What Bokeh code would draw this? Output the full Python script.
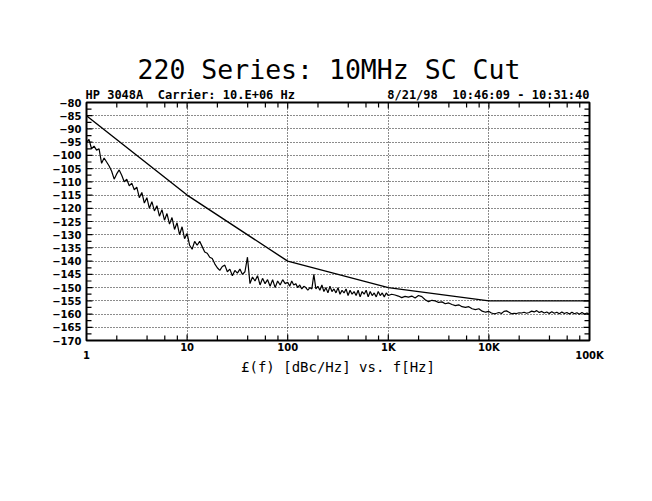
import numpy as np
from math import pi
from bokeh.plotting import figure
from bokeh.models import (Range1d, FixedTicker, LinearAxis, LogAxis, Title, LinearScale)
from bokeh.embed import file_html
from bokeh.resources import INLINE

# ---- data ----
title_text = "220 Series: 10MHz SC Cut"
header_left = "HP 3048A\u00a0 Carrier: 10.E+06 Hz"
header_right = "8/21/98\u00a0 10:46:09 - 10:31:40"
x_label = "£(f) [dBc/Hz] vs. f[Hz]"

x_tick_values = [10, 100, 1000, 10000]
x_tick_labels = ["10", "100", "1K", "10K"]
x_end_values = [1, 100000]
x_end_labels = ["1", "100K"]
x_minor = [m * d for d in [1, 10, 100, 1000, 10000] for m in (2, 4, 6, 8)]
y_tick_values = list(range(-170, -79, 5))
y_minor = [v + 2.5 for v in range(-170, -80, 5)]

# specification line (dBc/Hz)
spec_freq = [1, 10, 100, 1000, 10000, 100000]
spec_dbc = [-85, -115, -140, -150, -155, -155]

# measured phase noise, read per decade
noise_d1 = [-95, -94, -97.5, -96.5, -98, -97.5, -103, -101, -102.5, -104,
            -106, -109, -107, -105.5, -107.5, -110, -109, -111.5, -110.5, -113,
            -112, -116, -114, -118, -116, -120, -117.5, -121, -119, -123,
            -120.5, -124.5, -122, -126, -123.5, -128, -125.5, -130, -127, -131.5]
noise_d2 = [-129.5, -134, -135.5, -132.5, -134, -132.5, -134.5, -136.5, -137, -138.5,
            -139, -141, -142.5, -143.5, -142, -141.5, -144, -143, -145.5, -143.5,
            -144.5, -143, -145, -144, -138.5, -148.5, -146, -147.5, -145.5, -149,
            -146.5, -148.5, -147, -149.5, -147, -150, -147.5, -149, -147, -148.5]
noise_d3 = [-148, -149.5, -147.5, -149, -148.5, -150, -149, -150.5, -149.5, -150,
            -151, -150, -150.5, -145, -150.5, -149.5, -151, -149, -151.5, -150,
            -152, -149.5, -151.5, -150.5, -152, -150, -152.5, -151, -152, -150.5,
            -153, -151, -152.5, -151.5, -153, -151, -153.5, -151.5, -152.5, -151,
            -153.5, -151.5, -153, -152, -153.5, -151.5, -153, -152, -153.5, -152]
noise_d4 = [-153, -152.5, -152.8, -153.2, -153.8, -153.3, -153.6, -153.2, -153.9, -153.0,
            -153.4, -154.6, -155.3, -154.8, -155.0, -155.6, -155.4, -156.1, -155.8, -156.4,
            -156.8, -156.5, -157.2, -157.5, -157.2, -158.0, -158.3, -158.0, -158.9, -159.3]
noise_d5 = [-159.0, -159.6, -159.9, -159.7, -159.4, -159.8, -159.0, -158.8, -159.3, -159.9,
            -159.7, -159.8, -159.5, -159.6, -159.3, -159.7, -159.4, -158.9, -159.2, -158.7,
            -159.4, -159.0, -159.6, -159.2, -159.8, -159.1, -159.7, -159.3, -159.9, -159.2,
            -159.8, -159.4, -160.0, -159.3, -159.9, -159.5, -160.1, -159.4, -160.0, -159.6,
            -160.2]

noise_freq = np.concatenate([
    np.logspace(0, 1, len(noise_d1), endpoint=False),
    np.logspace(1, 2, len(noise_d2), endpoint=False),
    np.logspace(2, 3, len(noise_d3), endpoint=False),
    np.logspace(3, 4, len(noise_d4), endpoint=False),
    np.logspace(4, 5, len(noise_d5)),
])
noise_dbc = noise_d1 + noise_d2 + noise_d3 + noise_d4 + noise_d5

# ---- figure ----
X0, X1, Y0, Y1 = 1, 100000, -170, -80
FRAME_W = 503
p = figure(width=644, height=493, x_axis_type="log",
           x_range=Range1d(X0, X1), y_range=Range1d(Y0, Y1),
           output_backend="svg", toolbar_location=None,
           min_border_left=86, min_border_right=55,
           min_border_top=102, min_border_bottom=153)
p.extra_x_ranges = {"hdr": Range1d(0, FRAME_W)}
p.extra_x_scales = {"hdr": LinearScale()}
p.background_fill_color = "white"
p.border_fill_color = "white"
p.outline_line_color = "black"
p.outline_line_width = 2

xt = FixedTicker(ticks=x_tick_values, minor_ticks=x_minor)
yt = FixedTicker(ticks=y_tick_values, minor_ticks=y_minor)

bx = p.xaxis[0]
bx.ticker = xt
bx.major_label_overrides = {v: l for v, l in zip(x_tick_values, x_tick_labels)}
ly = p.yaxis[0]
ly.ticker = yt

for ax in (bx, ly):
    ax.axis_line_color = None
    ax.major_tick_in = 0
    ax.major_tick_out = 0
    ax.minor_tick_in = 0
    ax.minor_tick_out = 0
    ax.major_label_text_font = "DejaVu Sans"
    ax.major_label_text_font_style = "bold"
    ax.major_label_text_font_size = "10px"
    ax.major_label_text_color = "black"
bx.major_label_standoff = 1
ly.major_label_standoff = 5

# inward frame ticks (drawn inside the frame at the tick values)
tick_style = dict(line_color="black", line_width=1.2, length_units="screen")
p.ray(x=x_minor, y=[Y0] * len(x_minor), length=5, angle=pi / 2, **tick_style)
p.ray(x=x_minor, y=[Y1] * len(x_minor), length=5, angle=-pi / 2, **tick_style)
p.ray(x=x_tick_values, y=[Y0] * len(x_tick_values), length=6, angle=pi / 2, **tick_style)
p.ray(x=x_tick_values, y=[Y1] * len(x_tick_values), length=6, angle=-pi / 2, **tick_style)
p.ray(x=[X0] * len(y_tick_values), y=y_tick_values, length=6, angle=0, **tick_style)
p.ray(x=[X1] * len(y_tick_values), y=y_tick_values, length=6, angle=pi, **tick_style)
p.ray(x=[X0] * len(y_minor), y=y_minor, length=5, angle=0, **tick_style)
p.ray(x=[X1] * len(y_minor), y=y_minor, length=5, angle=pi, **tick_style)

# second bottom axis: end labels "1" and "100K" (drawn lower) + axis title
ex = LogAxis(ticker=FixedTicker(ticks=x_end_values),
             major_label_overrides={v: l for v, l in zip(x_end_values, x_end_labels)},
             axis_line_color=None, major_tick_in=0, major_tick_out=0,
             minor_tick_in=0, minor_tick_out=0,
             major_label_standoff=-6,
             major_label_text_font="DejaVu Sans", major_label_text_font_style="bold",
             major_label_text_font_size="10px", major_label_text_color="black",
             axis_label=x_label, axis_label_standoff=-5,
             axis_label_text_font="DejaVu Sans Mono", axis_label_text_font_style="normal",
             axis_label_text_font_size="14px", axis_label_text_color="black")
p.add_layout(ex, "below")

# header line above the frame (positions in frame pixels)
HDR_PX = 12
CHAR_W = HDR_PX * 0.602
hdr_ticks = [-1 + len(header_left) * CHAR_W / 2, FRAME_W - len(header_right) * CHAR_W / 2]
hx = LinearAxis(x_range_name="hdr", ticker=FixedTicker(ticks=hdr_ticks),
                major_label_overrides={hdr_ticks[0]: header_left, hdr_ticks[1]: header_right},
                axis_line_color=None, major_tick_in=0, major_tick_out=0,
                minor_tick_in=0, minor_tick_out=0, major_label_standoff=1,
                major_label_text_font="DejaVu Sans Mono", major_label_text_font_style="bold",
                major_label_text_font_size=f"{HDR_PX}px", major_label_text_color="black")
p.add_layout(hx, "above")

p.add_layout(Title(text=title_text, align="left", text_font="DejaVu Sans Mono",
                   text_font_style="normal", text_font_size="26.5px",
                   text_color="black", standoff=0, offset=51), "above")

p.xgrid.ticker = xt
p.ygrid.ticker = yt
for g in (p.xgrid[0], p.ygrid[0]):
    g.grid_line_color = "black"
    g.grid_line_dash = "1 2"
    g.grid_line_width = 1
    g.grid_line_alpha = 0.9

p.line(spec_freq, spec_dbc, line_color="black", line_width=1.4)
p.line(noise_freq, noise_dbc, line_color="black", line_width=1.2)

open("out.html", "w").write(file_html(p, INLINE))
